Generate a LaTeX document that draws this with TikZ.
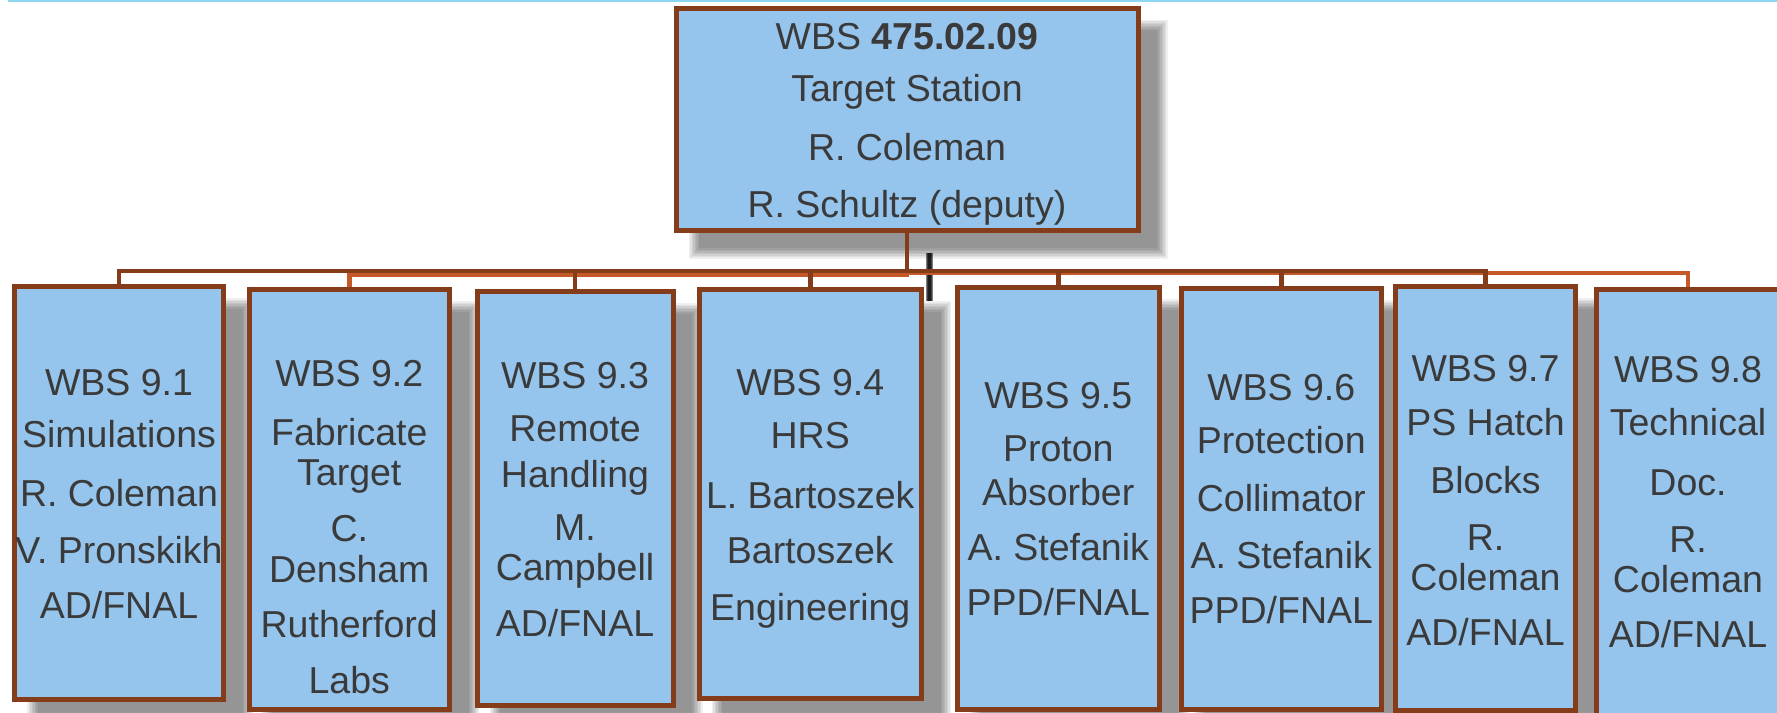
\documentclass[tikz,border=0pt]{standalone}
\usepackage{fontspec}
\setmainfont{Liberation Sans}
\pgfdeclarelayer{bg}
\pgfsetlayers{bg,main}
\definecolor{boxfill}{RGB}{149,196,236}
\definecolor{boxline}{RGB}{132,60,27}
\definecolor{orangeline}{RGB}{197,90,40}
\definecolor{txtgray}{RGB}{58,58,58}
\definecolor{topline}{RGB}{140,214,240}
\newcommand\labfont{\fontsize{37.5}{40}\selectfont}
\tikzset{
  wbsbox/.style={draw=boxline, fill=boxfill, line width=5, inner sep=0, rectangle},
  lbl/.style={anchor=base, text=txtgray, font=\labfont, inner sep=0},
  darkconn/.style={draw=boxline, line width=4.5},
  orangeconn/.style={draw=orangeline, line width=4.5},
}
\newcommand\softshadow[1]{%
  \begin{pgfonlayer}{bg}
    \foreach \i in {0,...,7}{%
      \fill[black,opacity=0.062] ([shift={(15+1.5*\i,14+1.5*\i)}]#1.north west)
        rectangle ([shift={(27-1.5*\i,26-1.5*\i)}]#1.south east);}
  \end{pgfonlayer}}
\newcommand\boxlines[3]{%
  \foreach \myY/\myT [count=\k] in {#3}{%
    \node[lbl] (#1-\k) at (#2,\myY) {\myT};}}
\begin{document}
\begin{tikzpicture}[x=1pt,y=-1pt]
\begin{pgfonlayer}{bg}
  \fill[white] (0,0) rectangle (1777,712);
\end{pgfonlayer}
\useasboundingbox (0,0) rectangle (1777,712);
\draw[topline, line width=2.5] (8,1) -- (1777,1);

% boxes
\node[wbsbox, minimum width=462, minimum height=222] (top) at (907,119) {};
\node[wbsbox, minimum width=209, minimum height=413] (c1) at (119,493) {};
\node[wbsbox, minimum width=200.5, minimum height=420] (c2) at (349.25,499.5) {};
\node[wbsbox, minimum width=196, minimum height=414] (c3) at (575,498.5) {};
\node[wbsbox, minimum width=222.5, minimum height=409] (c4) at (810.25,494) {};
\node[wbsbox, minimum width=201.5, minimum height=422] (c5) at (1058.25,498.5) {};
\node[wbsbox, minimum width=199.5, minimum height=421] (c6) at (1281.25,499) {};
\node[wbsbox, minimum width=180, minimum height=424] (c7) at (1485.5,498.5) {};
\node[wbsbox, minimum width=184, minimum height=432.5] (c8) at (1688,505.75) {};

% shadows
\softshadow{top}
\foreach \n in {c1,c2,c3,c4,c5,c6,c7,c8}{\softshadow{\n}}
\begin{pgfonlayer}{bg}
  \foreach \i in {0,1,2}{%
    \draw[black, opacity=0.5, line width=7-2*\i] ([shift={(22,20)}]top.south) -- ++(0,48);}
\end{pgfonlayer}

% connectors
\draw[orangeconn] (top.south) -- (top.south |- 0,275) -| (c2.north);
\draw[orangeconn] (top.south) -- (top.south |- 0,273) -| (c8.north);
\foreach \n in {c1,c3,c4,c5,c6,c7}{%
  \draw[darkconn] (top.south) -- (top.south |- 0,271) -| (\n.north);}

% texts
\boxlines{tt}{907}{49/{WBS \textbf{475.02.09}}, 101/{Target Station}, 160/{R. Coleman}, 217/{R. Schultz (deputy)}}
\boxlines{t1}{119}{395/{WBS 9.1}, 447/{Simulations}, 506/{R. Coleman}, 563/{V. Pronskikh}, 618/{AD/FNAL}}
\boxlines{t2}{349.25}{386/{WBS 9.2}, 445/{Fabricate}, 485/{Target}, 541/{C.}, 582/{Densham}, 637/{Rutherford}, 693/{Labs}}
\boxlines{t3}{575}{388/{WBS 9.3}, 441/{Remote}, 487/{Handling}, 540/{M.}, 580/{Campbell}, 636/{AD/FNAL}}
\boxlines{t4}{810.25}{395/{WBS 9.4}, 448/{HRS}, 508/{L. Bartoszek}, 563/{Bartoszek}, 620/{Engineering}}
\boxlines{t5}{1058.25}{408/{WBS 9.5}, 461/{Proton}, 505/{Absorber}, 560/{A. Stefanik}, 615/{PPD/FNAL}}
\boxlines{t6}{1281.25}{400/{WBS 9.6}, 453/{Protection}, 511/{Collimator}, 568/{A. Stefanik}, 623/{PPD/FNAL}}
\boxlines{t7}{1485.5}{381/{WBS 9.7}, 435/{PS Hatch}, 493/{Blocks}, 550/{R.}, 590/{Coleman}, 645/{AD/FNAL}}
\boxlines{t8}{1688}{382/{WBS 9.8}, 435/{Technical}, 495/{Doc.}, 552/{R.}, 592/{Coleman}, 647/{AD/FNAL}}
\end{tikzpicture}
\end{document}
